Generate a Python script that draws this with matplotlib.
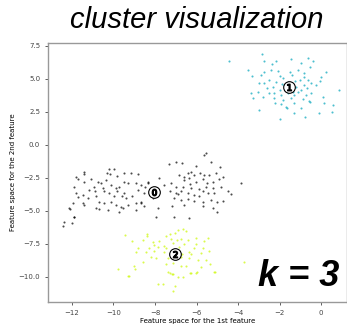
import numpy as np
import matplotlib
matplotlib.use("Agg")
import matplotlib.pyplot as plt
import matplotlib.cm as cm

# cluster 0 (two merged blobs)
c0_x = [-10.20, -9.99, -10.31, -11.41, -11.73, -11.09, -10.76, -10.60, -10.36, -10.15,
        -9.83, -9.51, -9.15, -8.80, -9.47, -9.28, -8.91, -8.67, -8.35, -10.12,
        -9.72, -10.92, -11.17, -11.89, -10.44, -10.20, -9.99, -9.83, -9.51, -9.39,
        -9.12, -8.83, -8.51, -11.49, -11.73, -11.25, -10.84, -10.68, -10.44, -10.12,
        -9.88, -9.63, -9.31, -8.91, -8.67, -11.97, -11.41, -12.13, -10.84, -10.68,
        -10.28, -9.72, -9.55, -8.91, -11.92, -12.45, -12.37, -12.00, -11.92, -12.10,
        -11.49, -11.81, -11.41, -11.81, -11.41,
        -5.62, -5.54, -7.31, -6.99, -6.72, -5.30, -6.02, -4.87, -6.83, -6.43,
        -6.27, -6.11, -5.82, -5.66, -5.39, -5.06, -4.74, -8.35, -7.79, -6.59,
        -6.35, -6.02, -5.70, -5.22, -4.90, -3.86, -8.48, -7.55, -7.23, -6.99,
        -6.67, -6.27, -5.86, -5.54, -5.22, -4.82, -4.47, -4.34, -7.26, -6.99,
        -6.75, -6.43, -6.14, -5.70, -5.46, -5.14, -7.90, -8.11, -7.07, -6.75,
        -6.43, -6.11, -5.70, -5.30, -5.01, -4.74, -6.59, -5.70, -8.51, -7.87,
        -7.18, -5.22, -5.01, -8.67, -7.95, -7.07, -6.35,
        -10.5, -9.6, -9.9, -10.9, -6.3, -6.6, -5.9, -6.9, -5.5]
c0_y = [-1.84, -1.84, -2.10, -2.20, -2.61, -2.61, -2.78, -2.86, -2.66, -2.23,
        -2.35, -2.15, -2.15, -2.23, -2.78, -2.91, -2.86, -3.03, -2.86, -3.03,
        -3.16, -3.16, -3.41, -3.16, -3.53, -3.66, -3.86, -3.53, -3.66, -4.04,
        -3.91, -3.41, -3.66, -3.79, -3.96, -4.04, -3.91, -4.29, -4.42, -4.29,
        -4.54, -4.67, -4.54, -4.42, -4.37, -4.42, -4.54, -4.80, -4.80, -4.88,
        -4.93, -5.05, -4.80, -4.93, -5.43, -6.14, -5.81, -5.93, -5.43, -4.87,
        -4.42, -3.64, -2.78, -2.40, -2.02,
        -0.76, -0.63, -1.44, -1.26, -1.39, -1.26, -1.59, -1.69, -2.27, -2.15,
        -2.02, -2.27, -2.15, -2.27, -2.27, -2.15, -2.45, -2.78, -2.53, -2.66,
        -2.53, -2.78, -2.60, -2.78, -2.60, -2.86, -3.21, -3.03, -2.91, -3.16,
        -3.16, -3.28, -3.36, -3.16, -3.28, -3.16, -3.53, -3.71, -3.53, -3.61,
        -3.53, -3.66, -3.79, -3.53, -3.61, -3.66, -3.86, -4.04, -4.04, -4.17,
        -4.12, -4.22, -4.29, -4.17, -4.29, -4.22, -4.54, -4.62, -4.62, -4.80,
        -4.62, -4.80, -5.05, -4.29, -5.48, -5.43, -5.56,
        -3.3, -3.9, -3.3, -3.5, -3.0, -2.4, -3.9, -3.7, -2.9]

# cluster 1
c1_x = [-2.86, -4.43, -2.76, -1.45, -0.61, -0.37, -2.19, -2.37, -0.96, -0.51,
        -3.50, -2.76, -2.41, -2.09, -1.52, -1.12, -0.83, 0.26, -3.31, -2.89,
        -2.00, -1.39, -0.80, 0.00, -2.97, -2.73, -2.49, -2.17, -1.85, -1.25,
        -0.64, -0.03, -0.48, -0.24, -2.33, -2.00, -1.77, -1.20, -0.96, -0.83,
        -3.39, -3.02, -2.25, -1.93, -1.61, -1.37, -0.72, -0.48, 0.88, -3.29,
        -2.81, -2.25, -1.85, -1.45, -0.88, -0.56, 0.08, -1.93, -1.69, -1.29,
        -0.51, 0.16, 0.56, -2.97, -1.64, -0.96, 0.53, -1.29, -0.08, -0.77,
        -1.96, -1.9, -1.1, -2.6, -1.6, -0.7, -2.2, -1.3, -1.0, -2.5]
c1_y = [6.89, 6.39, 6.39, 6.52, 6.62, 6.39, 6.36, 6.11, 6.21, 5.93,
        5.68, 5.56, 5.68, 5.60, 5.56, 5.68, 5.43, 5.56, 5.23, 5.30,
        5.23, 5.30, 5.18, 5.18, 4.72, 4.67, 4.92, 4.80, 5.05, 4.87,
        4.92, 4.87, 4.67, 4.55, 4.42, 4.17, 4.55, 4.42, 4.17, 4.55,
        3.97, 4.04, 3.91, 3.79, 3.91, 4.04, 3.79, 3.91, 4.17, 3.54,
        3.66, 3.54, 3.41, 3.54, 3.46, 3.33, 3.66, 3.11, 2.90, 3.16,
        3.28, 3.16, 3.03, 2.65, 2.77, 2.77, 2.52, 2.40, 2.40, 2.10,
        1.97, 4.6, 4.0, 4.3, 4.8, 4.3, 3.2, 3.8, 4.9, 3.9]

# cluster 2
c2_x = [-9.45, -8.39, -8.39, -7.26, -7.04, -6.88, -6.67, -6.51, -7.47, -7.23,
        -6.75, -6.40, -6.04, -5.47, -9.11, -8.59, -8.11, -7.79, -6.94, -5.63,
        -8.03, -7.55, -7.15, -6.59, -6.04, -8.84, -8.27, -7.87, -7.47, -6.83,
        -6.35, -6.11, -5.71, -5.39, -8.92, -8.44, -8.03, -7.55, -7.23, -6.72,
        -6.27, -5.79, -8.19, -7.95, -7.39, -6.75, -6.35, -5.95, -5.55, -8.59,
        -8.99, -8.96, -7.47, -7.15, -6.75, -6.51, -5.79, -5.34, -3.73, -9.77,
        -7.39, -7.20, -6.27, -6.00, -5.09, -9.27, -6.67, -7.84, -7.04, -9.29,
        -7.63, -7.15, -6.91, -6.30, -6.03, -5.14, -7.30, -7.15]
c2_y = [-6.82, -6.77, -6.94, -6.77, -6.69, -6.44, -6.36, -6.51, -6.94, -7.14,
        -7.14, -7.20, -7.02, -7.02, -7.25, -7.20, -7.37, -7.27, -7.20, -7.32,
        -7.58, -7.65, -7.45, -7.52, -7.52, -7.83, -7.83, -7.70, -7.83, -7.75,
        -8.08, -7.83, -7.78, -8.03, -8.13, -8.08, -8.03, -8.13, -8.21, -8.28,
        -8.28, -8.21, -8.46, -8.59, -8.54, -8.46, -8.59, -8.71, -8.71, -8.84,
        -9.21, -9.39, -9.04, -8.97, -9.21, -9.21, -9.29, -9.01, -8.84, -9.42,
        -9.65, -9.80, -9.72, -9.65, -9.60, -9.92, -10.03, -10.53, -10.73, -9.90,
        -10.53, -11.04, -10.02, -9.72, -9.72, -9.60, -9.70, -9.75]

centers_x = [-8.05, -1.54, -7.04]
centers_y = [-3.56, 4.39, -8.26]
n_clusters = 3

fig = plt.figure(figsize=(3.47, 3.25), dpi=100)
ax = fig.add_axes([0.138, 0.071, 0.862, 0.797])

for i, (xs, ys) in enumerate([(c0_x, c0_y), (c1_x, c1_y), (c2_x, c2_y)]):
    color = cm.nipy_spectral(float(i) / n_clusters)
    ax.scatter(xs, ys, marker='.', s=9, lw=0, alpha=0.7, color=color)

ax.scatter(centers_x, centers_y, marker='o', c="white", alpha=1, s=70,
           edgecolor='k', linewidths=0.8, zorder=3)
for i, (cx, cy) in enumerate(zip(centers_x, centers_y)):
    ax.scatter(cx, cy, marker='$%d$' % i, alpha=1, s=22, c='k', zorder=4)

ax.set_xlim(-13.16, 1.25)
ax.set_ylim(-11.9, 7.73)
ax.set_xticks([-12, -10, -8, -6, -4, -2, 0])
ax.set_yticks([-10.0, -7.5, -5.0, -2.5, 0.0, 2.5, 5.0, 7.5])
ax.set_yticklabels(["\u221210.0", "\u22127.5", "\u22125.0", "\u22122.5", "0.0", "2.5", "5.0", "7.5"])
ax.tick_params(labelsize=5, colors='#444444', length=2, width=0.6)
for s in ax.spines.values():
    s.set_color('#999999')
    s.set_linewidth(1.0)
ax.set_xlabel("Feature space for the 1st feature", fontsize=5, labelpad=2)
ax.set_ylabel("Feature space for the 2nd feature", fontsize=5, labelpad=2)

fig.text(0.566, 0.937, "cluster visualization", fontsize=21, style='italic',
         family='Liberation Sans', ha='center', va='center')
ax.text(0.975, 0.10, "k = 3", fontsize=26, style='italic', weight='bold',
        family='Liberation Sans', ha='right', va='center', transform=ax.transAxes)

fig.savefig("out.png", dpi=100)
